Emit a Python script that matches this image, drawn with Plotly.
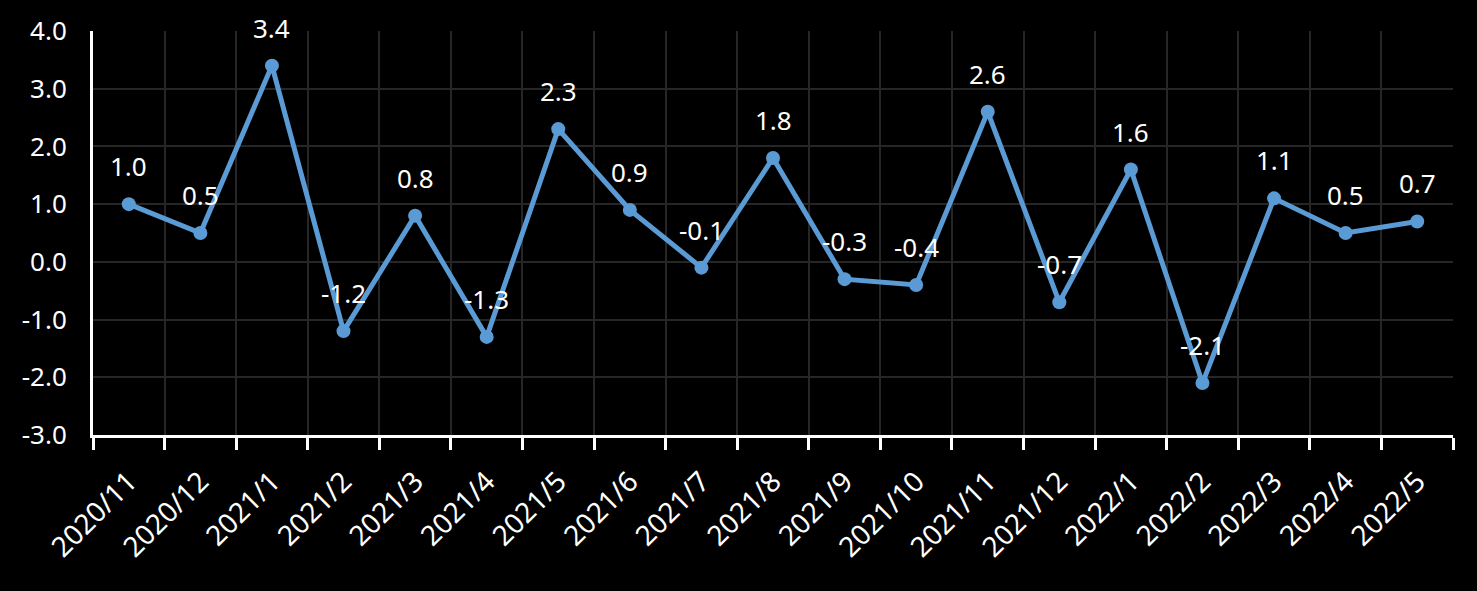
import plotly.graph_objects as go

categories = ["2020/11", "2020/12", "2021/1", "2021/2", "2021/3", "2021/4", "2021/5",
              "2021/6", "2021/7", "2021/8", "2021/9", "2021/10", "2021/11", "2021/12",
              "2022/1", "2022/2", "2022/3", "2022/4", "2022/5"]
values = [1.0, 0.5, 3.4, -1.2, 0.8, -1.3, 2.3, 0.9, -0.1, 1.8, -0.3, -0.4, 2.6, -0.7,
          1.6, -2.1, 1.1, 0.5, 0.7]
y_ticks = [-3, -2, -1, 0, 1, 2, 3, 4]

FONT = "Noto Sans, Open Sans, sans-serif"
COLOR = "#5B9BD5"
FS = 26

fig = go.Figure()
fig.add_trace(go.Scatter(
    x=categories, y=values, mode="lines+markers",
    line=dict(color=COLOR, width=5),
    marker=dict(color=COLOR, size=14),
    hoverinfo="x+y", showlegend=False,
))

for c, v in zip(categories, values):
    fig.add_annotation(x=c, y=v, text=f"{v:.1f}", showarrow=False,
                       yshift=38, font=dict(family=FONT, size=FS, color="white"))

fig.update_layout(
    width=1477, height=591,
    paper_bgcolor="black", plot_bgcolor="black",
    margin=dict(l=93, r=24, t=29, b=156),
    font=dict(family=FONT, color="white", size=FS),
    xaxis=dict(
        type="category", range=[-0.5, len(categories) - 0.5],
        tickson="boundaries", ticks="outside", ticklen=12, tickwidth=3,
        tickcolor="white", showline=True, linecolor="white", linewidth=3,
        showgrid=True, gridcolor="#262626", gridwidth=2,
        tickangle=-45, ticklabelstandoff=16,
        tickfont=dict(family=FONT, size=28, color="white"),
        zeroline=False,
    ),
    yaxis=dict(
        range=[-3, 4], tickvals=y_ticks, ticktext=[f"{t:.1f}" for t in y_ticks],
        showline=True, linecolor="white", linewidth=3,
        showgrid=True, gridcolor="#262626", gridwidth=2,
        zeroline=False, ticks="", ticklabelstandoff=18,
        tickfont=dict(family=FONT, size=FS, color="white"),
    ),
)

fig.write_html(
    "out.html",
    config={"displayModeBar": False},
    post_script="document.body.style.margin='0';document.body.style.background='black';",
)
